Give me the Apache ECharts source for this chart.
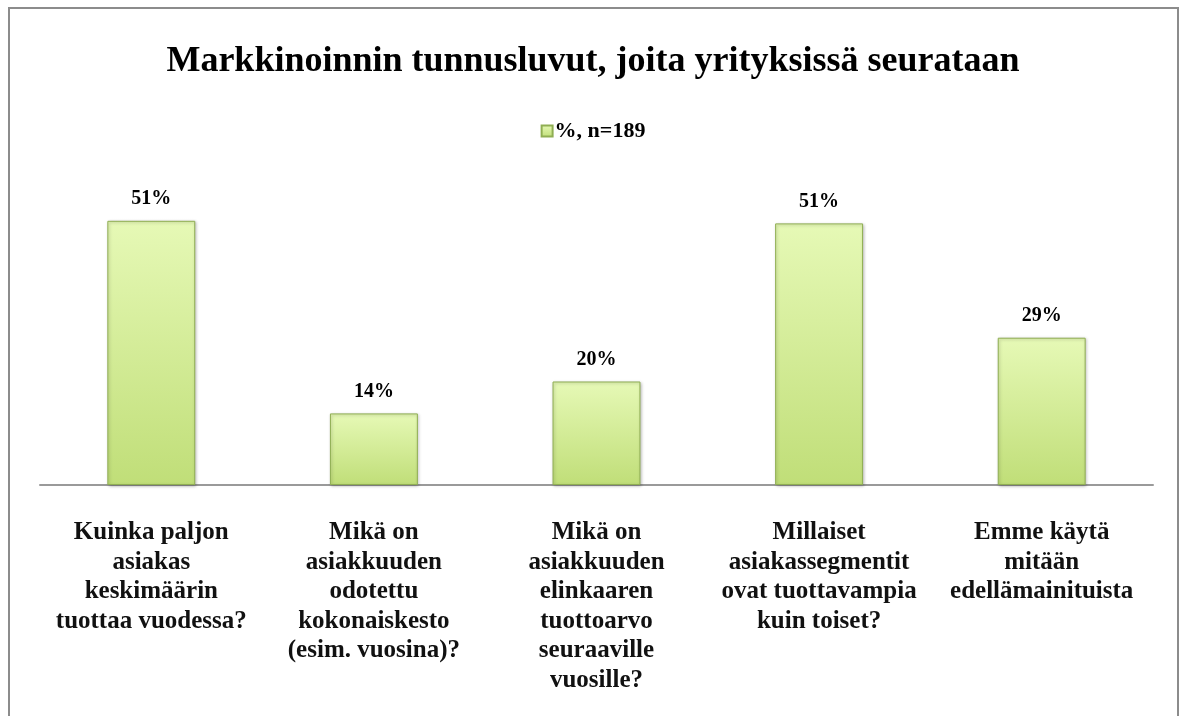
<!DOCTYPE html>
<html>
<head>
<meta charset="utf-8">
<script src="https://cdn.jsdelivr.net/npm/echarts@6/dist/echarts.min.js"></script>
<style>html,body{margin:0;padding:0;background:#fff}#c{width:1186px;height:716px}</style>
</head>
<body>
<div id="c"></div>
<script>
var categories = [
  'Kuinka paljon\nasiakas\nkeskimäärin\ntuottaa vuodessa?',
  'Mikä on\nasiakkuuden\nodotettu\nkokonaiskesto\n(esim. vuosina)?',
  'Mikä on\nasiakkuuden\nelinkaaren\ntuottoarvo\nseuraaville\nvuosille?',
  'Millaiset\nasiakassegmentit\novat tuottavampia\nkuin toiset?',
  'Emme käytä\nmitään\nedellämainituista'
];
var values = [51.3, 13.9, 20.1, 50.8, 28.6];
var seriesName = '%, n=189';
var titleText = 'Markkinoinnin tunnusluvut, joita yrityksissä seurataan';

var serif = '"Liberation Serif", "DejaVu Serif", serif';
var chart = echarts.init(document.getElementById('c'));
var barColor = new echarts.graphic.LinearGradient(0, 0, 0, 1, [
  {offset: 0, color: '#e6f9b6'},
  {offset: 1, color: '#c0de78'}
]);
chart.setOption({
  animation: false,
  backgroundColor: '#fff',
  graphic: [{
    type: 'rect', shape: {x: 9, y: 8, width: 1169, height: 760},
    style: {fill: 'none', stroke: '#8c8c8c', lineWidth: 2}, silent: true
  }],
  title: {
    text: titleText, left: 'center', top: 39,
    textStyle: {fontFamily: serif, fontSize: 36, fontWeight: 'bold', color: '#000'}
  },
  legend: {
    data: [seriesName], top: 115, left: 'center', icon: 'rect',
    itemWidth: 11, itemHeight: 11, itemGap: 4,
    textStyle: {fontFamily: serif, fontSize: 22, fontWeight: 'bold', color: '#000', padding: [0,0,0,-3]}
  },
  grid: {left: 40, right: 33, top: 176, bottom: 231},
  xAxis: {
    type: 'category', data: categories,
    axisLine: {lineStyle: {color: '#9a9a9a', width: 2}},
    axisTick: {show: false},
    axisLabel: {
      interval: 0, margin: 33, fontFamily: serif, fontSize: 25, fontWeight: 'bold',
      color: '#111', lineHeight: 29.5, verticalAlign: 'top'
    }
  },
  yAxis: {
    type: 'value', min: 0, max: 60, show: false,
    splitLine: {show: false}
  },
  series: [{
    name: seriesName, type: 'bar', data: values, barWidth: '39.5%',
    itemStyle: {color: barColor, borderColor: '#8fae52', borderWidth: 1,
      shadowColor: 'rgba(0,0,0,0.25)', shadowBlur: 3, shadowOffsetX: 1, shadowOffsetY: 1},
    label: {
      show: true, position: 'top', distance: 12,
      formatter: function (p) { return Math.round(p.value) + '%'; },
      fontFamily: serif, fontSize: 20, fontWeight: 'bold', color: '#000'
    }
  }]
});
</script>
</body>
</html>
